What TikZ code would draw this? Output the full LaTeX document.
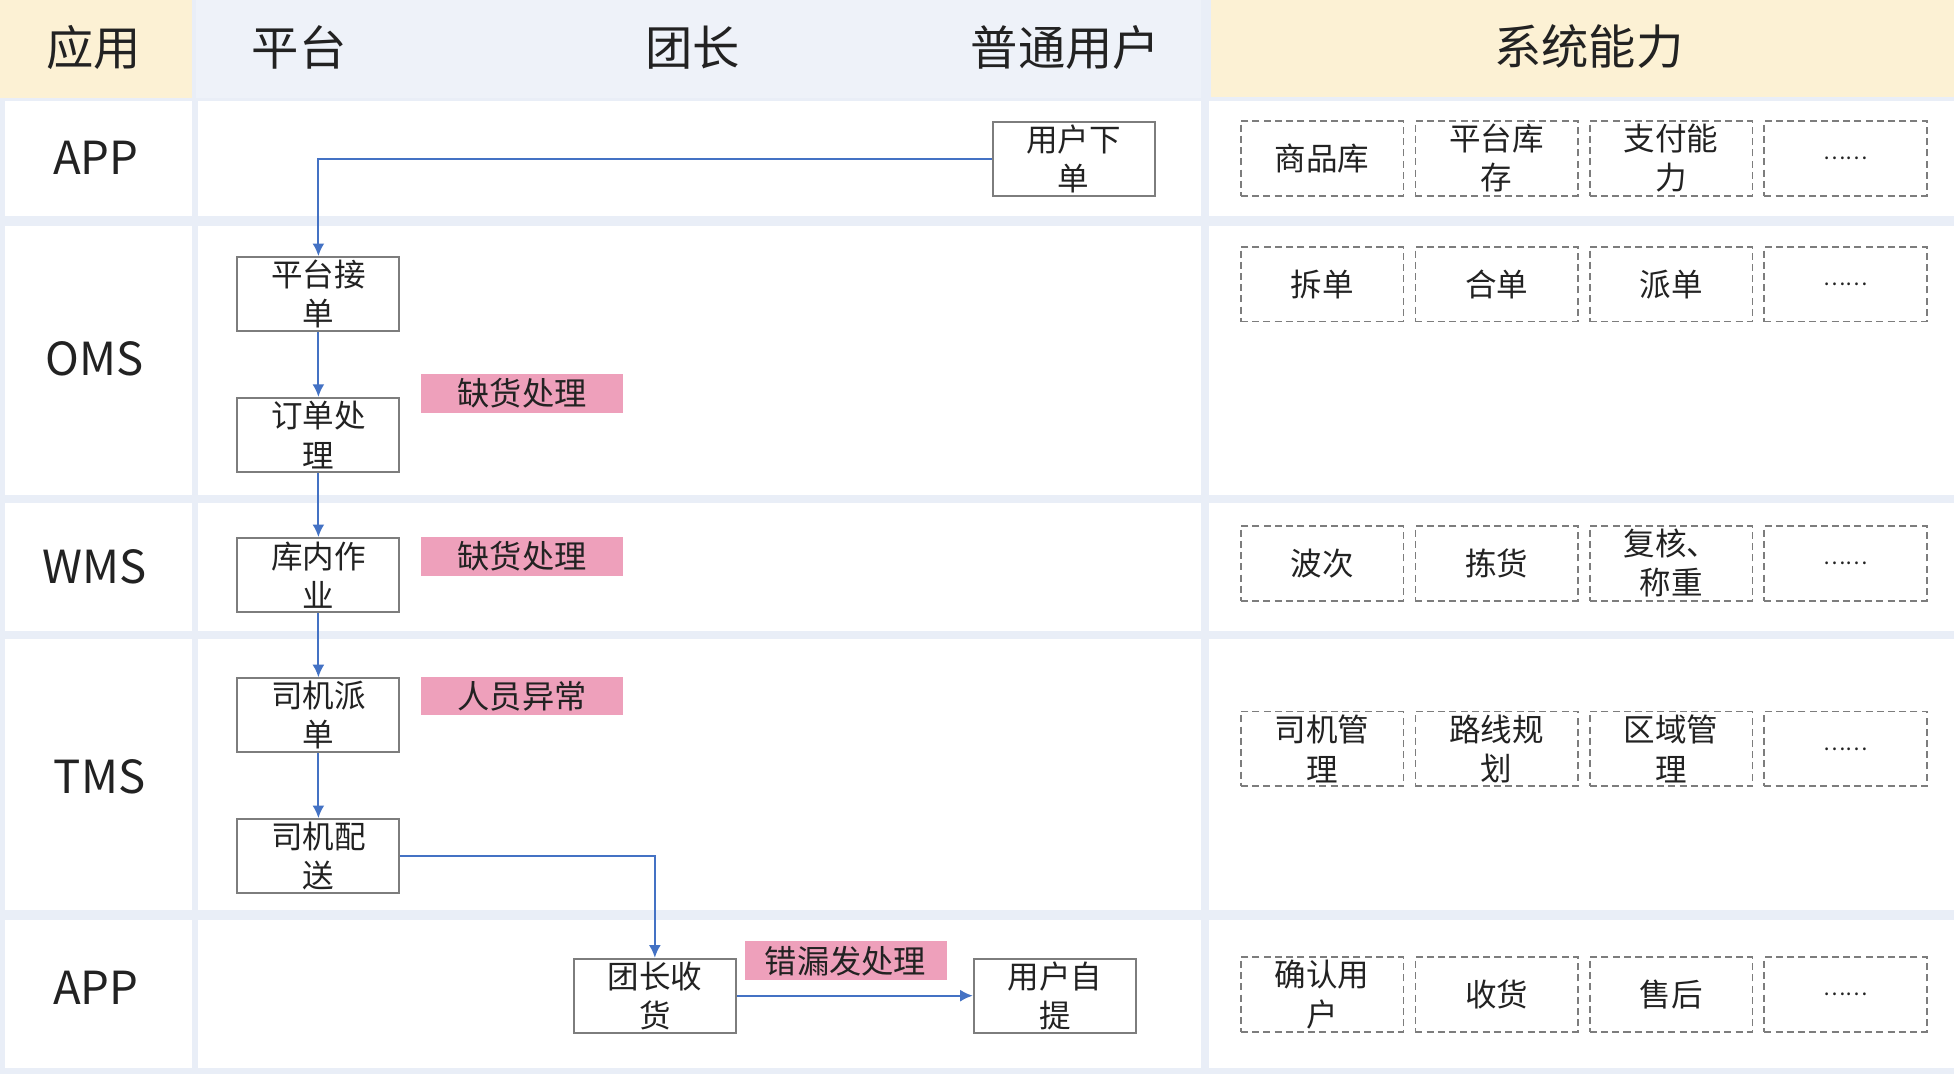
\documentclass[tikz,border=0pt]{standalone}
\usepackage{fontspec}
\setmainfont{Noto Sans CJK SC}
\usetikzlibrary{arrows.meta}

\definecolor{kopfgelb}{RGB}{252,241,212}
\definecolor{kopfblau}{RGB}{238,242,249}
\definecolor{trenner}{RGB}{233,238,247}
\definecolor{pfeilblau}{RGB}{68,114,196}
\definecolor{rosa}{RGB}{238,160,187}
\definecolor{rahmen}{RGB}{125,125,125}
\definecolor{schrift}{RGB}{34,34,34}

\tikzset{
	kopf/.style={text=schrift, font=\fontsize{13.5}{16}\selectfont},
	bahn/.style={text=schrift, font=\fontsize{13}{15}\selectfont},
	ablauf/.style={draw=rahmen, line width=0.6pt, fill=white, minimum width=1.625cm, minimum height=0.74cm, inner sep=0pt, align=center, text=schrift, font=\fontsize{9}{11.2}\selectfont},
	hinweis/.style={fill=rosa, minimum width=2.025cm, minimum height=0.39cm, inner sep=0pt, text=schrift, font=\fontsize{9.2}{11}\selectfont},
	faehig/.style={draw=rahmen, dash pattern=on 2pt off 1.2pt, line width=0.5pt, minimum width=1.63cm, minimum height=0.75cm, inner sep=0pt, align=center, text=schrift, font=\fontsize{9}{11.2}\selectfont},
	pfeil/.style={draw=pfeilblau, line width=0.6pt, -{Latex[length=3.6pt,width=3.4pt]}}
}

\newcommand{\punkte}{{\fontsize{6}{7}\selectfont ……}}

\begin{document}
\begin{tikzpicture}[x=0.0125cm,y=-0.0125cm]
	\useasboundingbox (0,0) rectangle (1568,862);
	
	% Hintergrund und Trennlinien
	\fill[trenner] (0,0) rectangle (1568,862);
	\fill[kopfgelb] (0,0) rectangle (154,79);
	\fill[kopfblau] (157,0) rectangle (964,79);
	\fill[kopfgelb] (972,0) rectangle (1568,78);
	
	% Weisse Felder je Zeile
	\foreach \oben/\unten in {81/173, 181/397, 404/506, 513/730, 738/857} {
		\fill[white] (4,\oben) rectangle (154,\unten);
		\fill[white] (159,\oben) rectangle (964,\unten);
		\fill[white] (970,\oben) rectangle (1568,\unten);
	}
	
	% Kopfzeile
	\node[kopf] (k-app) at (75,38) {应用};
	\node[kopf] (k-pt) at (240,38) {平台};
	\node[kopf] (k-tz) at (556,38) {团长};
	\node[kopf] (k-yh) at (855,38) {普通用户};
	\node[kopf] (k-nl) at (1275,37) {系统能力};
	
	% Bahnen links
	\node[bahn] (b-app1) at (77,127) {APP};
	\node[bahn] (b-oms) at (76,288) {OMS};
	\node[bahn] (b-wms) at (76,455) {WMS};
	\node[bahn] (b-tms) at (80,623) {TMS};
	\node[bahn] (b-app2) at (77,793) {APP};
	
	% Ablauf
	\node[ablauf] (xiadan) at (861.5,127.5) {用户下\\单};
	\node[ablauf] (jiedan) at (255.5,236) {平台接\\单};
	\node[ablauf] (dingdan) at (255.5,349) {订单处\\理};
	\node[ablauf] (kunei) at (255.5,461.5) {库内作\\业};
	\node[ablauf] (paidan) at (255.5,574) {司机派\\单};
	\node[ablauf] (peisong) at (255.5,687) {司机配\\送};
	\node[ablauf] (shouhuo) at (525.5,799) {团长收\\货};
	\node[ablauf] (ziti) at (846.5,799) {用户自\\提};
	
	% Ausnahmen
	\node[hinweis] (h-que1) at (419,315.5) {缺货处理};
	\node[hinweis] (h-que2) at (419,446.5) {缺货处理};
	\node[hinweis] (h-ren) at (419,558.5) {人员异常};
	\node[hinweis] (h-cuo) at (678.5,771) {错漏发处理};
	
	% Pfeile
	\draw[pfeil] (xiadan.west) -| (jiedan.north);
	\draw[pfeil] (jiedan.south) -- (dingdan.north);
	\draw[pfeil] (dingdan.south) -- (kunei.north);
	\draw[pfeil] (kunei.south) -- (paidan.north);
	\draw[pfeil] (paidan.south) -- (peisong.north);
	\draw[pfeil] (peisong.east) -| (shouhuo.north);
	\draw[pfeil] (shouhuo.east) -- (ziti.west);
	
	% Systemfaehigkeiten rechts
	\foreach \txt [count=\i from 0] in {商品库, {平台库\\存}, {支付能\\力}, \punkte} {
		\node[faehig] (f-app-\i) at (1061+\i*140,127) {\txt};
	}
	\foreach \txt [count=\i from 0] in {拆单, 合单, 派单, \punkte} {
		\node[faehig] (f-oms-\i) at (1061+\i*140,228) {\txt};
	}
	\foreach \txt [count=\i from 0] in {波次, 拣货, {复核、\\称重}, \punkte} {
		\node[faehig] (f-wms-\i) at (1061+\i*140,452) {\txt};
	}
	\foreach \txt [count=\i from 0] in {{司机管\\理}, {路线规\\划}, {区域管\\理}, \punkte} {
		\node[faehig] (f-tms-\i) at (1061+\i*140,601) {\txt};
	}
	\foreach \txt [count=\i from 0] in {{确认用\\户}, 收货, 售后, \punkte} {
		\node[faehig] (f-kd-\i) at (1061+\i*140,798) {\txt};
	}
\end{tikzpicture}
\end{document}
